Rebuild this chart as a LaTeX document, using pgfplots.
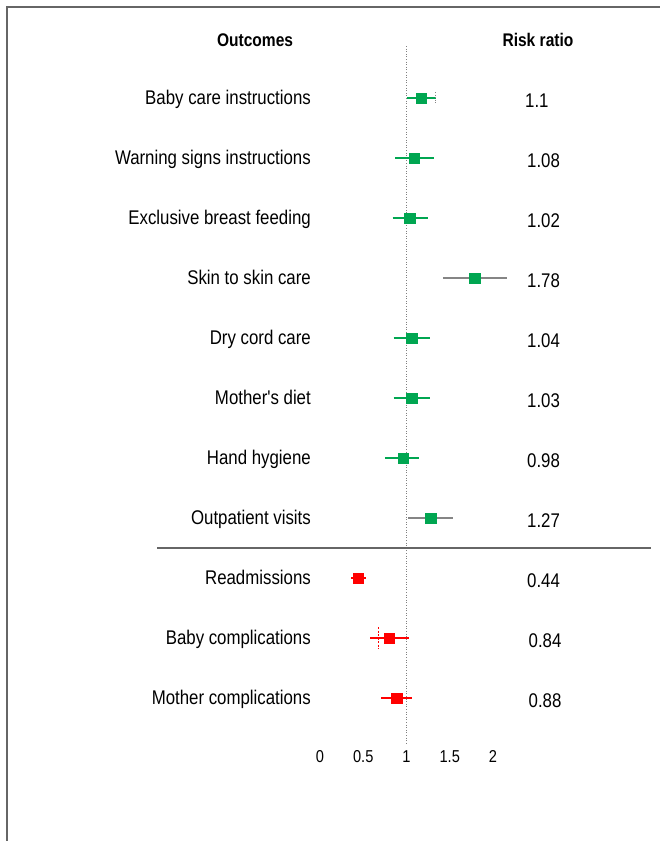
\documentclass[border=0pt]{standalone}
\usepackage{pgfplots}
\pgfplotsset{compat=1.18}
\usepackage{fontspec}
\newfontfamily\nf{Liberation Sans}[FakeStretch=0.85]
\definecolor{fgreen}{HTML}{00A651}
\definecolor{fred}{HTML}{FF0000}
\definecolor{fgray}{HTML}{858585}
\definecolor{framegray}{HTML}{666666}
\tikzset{lab/.style={anchor=base east, font=\nf\fontsize{19.8}{21}\selectfont, inner sep=0pt},
         val/.style={anchor=base west, font=\nf\fontsize{19.8}{21}\selectfont, inner sep=0pt},
         tk/.style={font=\nf\fontsize{17.2}{18}\selectfont},
         ttl/.style={font=\nf\fontsize{18.3}{19}\selectfont\bfseries}}
\begin{document}
\begin{tikzpicture}
\begin{axis}[
  width=660pt, height=841pt, scale only axis,
  xmin=-3.6994, xmax=3.9306,
  ymin=-0.6333, ymax=13.3833, y dir=reverse,
  hide axis, clip=false,
]
\coordinate (BB1) at (rel axis cs:0,0);
\coordinate (BB2) at (rel axis cs:1,1);
% frame
\draw[framegray, line width=1.6pt] (axis cs:-3.6185,13.3833) -- (axis cs:-3.6185,-0.5167) -- (axis cs:3.9306,-0.5167);
% reference line at 1
\addplot[gray, line width=0.9pt, dash pattern=on 1pt off 1.6pt] coordinates {(1,0.1333) (1,11.783)};
% separator
\addplot[framegray, line width=1.2pt] coordinates {(-1.884,8.5) (3.827,8.5)};
% CI lines
\addplot[fgreen, line width=1.4pt] coordinates {(1.00,1) (1.34,1)};
\addplot[fgreen, line width=1.4pt] coordinates {(0.87,2) (1.32,2)};
\addplot[fgreen, line width=1.4pt] coordinates {(0.84,3) (1.25,3)};
\addplot[fgray, line width=1.4pt] coordinates {(1.42,4) (2.16,4)};
\addplot[fgreen, line width=1.4pt] coordinates {(0.85,5) (1.27,5)};
\addplot[fgreen, line width=1.4pt] coordinates {(0.85,6) (1.27,6)};
\addplot[fgreen, line width=1.4pt] coordinates {(0.75,7) (1.15,7)};
\addplot[fgray, line width=1.4pt] coordinates {(1.02,8) (1.54,8)};
\addplot[fred, line width=1.2pt] coordinates {(0.36,9) (0.53,9)};
\addplot[fred, line width=1.2pt] coordinates {(0.58,10) (1.03,10)};
\addplot[fred, line width=1.2pt] coordinates {(0.71,11) (1.06,11)};
% small ticks
\addplot[fgray, line width=0.9pt, dash pattern=on 1pt off 1.5pt] coordinates {(1.34,0.9) (1.34,1.1)};
\addplot[fred, line width=0.9pt, dash pattern=on 2pt off 1.5pt] coordinates {(0.68,9.82) (0.68,10.18)};
% point estimates
\addplot[only marks, mark=square*, mark size=5.3pt, fgreen] coordinates {
 (1.17,1) (1.09,2) (1.04,3) (1.79,4) (1.06,5) (1.06,6) (0.96,7) (1.28,8)};
\addplot[only marks, mark=square*, mark size=5.3pt, fred] coordinates {
 (0.44,9) (0.80,10) (0.89,11)};
% titles
\node[ttl] at (axis cs:-0.751,0.0333) {Outcomes};
\node[ttl] at (axis cs:2.520,0.0333) {Risk ratio};
% labels
\node[lab] at (axis cs:-0.104,1.11) {Baby care instructions};
\node[lab] at (axis cs:-0.104,2.11) {Warning signs instructions};
\node[lab] at (axis cs:-0.104,3.11) {Exclusive breast feeding};
\node[lab] at (axis cs:-0.104,4.11) {Skin to skin care};
\node[lab] at (axis cs:-0.104,5.11) {Dry cord care};
\node[lab] at (axis cs:-0.104,6.11) {Mother's diet};
\node[lab] at (axis cs:-0.104,7.11) {Hand hygiene};
\node[lab] at (axis cs:-0.104,8.11) {Outpatient visits};
\node[lab] at (axis cs:-0.104,9.11) {Readmissions};
\node[lab] at (axis cs:-0.104,10.11) {Baby complications};
\node[lab] at (axis cs:-0.104,11.11) {Mother complications};
% values
\node[val] at (axis cs:2.37,1.15) {1.1};
\node[val] at (axis cs:2.393,2.15) {1.08};
\node[val] at (axis cs:2.393,3.15) {1.02};
\node[val] at (axis cs:2.393,4.15) {1.78};
\node[val] at (axis cs:2.393,5.15) {1.04};
\node[val] at (axis cs:2.393,6.15) {1.03};
\node[val] at (axis cs:2.393,7.15) {0.98};
\node[val] at (axis cs:2.393,8.15) {1.27};
\node[val] at (axis cs:2.393,9.15) {0.44};
\node[val] at (axis cs:2.41,10.15) {0.84};
\node[val] at (axis cs:2.41,11.15) {0.88};
% x tick labels
\node[tk] at (axis cs:0,11.98) {0};
\node[tk] at (axis cs:0.5,11.98) {0.5};
\node[tk] at (axis cs:1,11.98) {1};
\node[tk] at (axis cs:1.5,11.98) {1.5};
\node[tk] at (axis cs:2,11.98) {2};
\end{axis}
\pgfresetboundingbox
\path[use as bounding box] (BB1) rectangle (BB2);
\end{tikzpicture}
\end{document}
